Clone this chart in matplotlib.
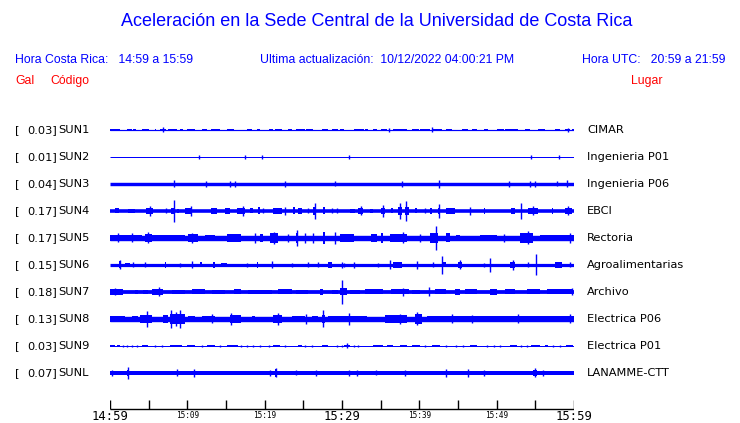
import matplotlib
matplotlib.use("Agg")
import matplotlib.pyplot as plt

W, H = 740, 423
BLUE = "#0000ff"
RED = "#ff0000"

title = "Aceleración en la Sede Central de la Universidad de Costa Rica"
hora_cr = "Hora Costa Rica:   14:59 a 15:59"
ultima = "Ultima actualización:  10/12/2022 04:00:21 PM"
hora_utc = "Hora UTC:   20:59 a 21:59"

codes = ["SUN1", "SUN2", "SUN3", "SUN4", "SUN5", "SUN6", "SUN7", "SUN8", "SUN9", "SUNL"]
gal = [0.03, 0.01, 0.04, 0.17, 0.17, 0.15, 0.18, 0.13, 0.03, 0.07]
places = ["CIMAR", "Ingenieria P01", "Ingenieria P06", "EBCI", "Rectoria",
          "Agroalimentarias", "Archivo", "Electrica P06", "Electrica P01", "LANAMME-CTT"]

# base half-amplitude of each trace (display units) ; events: (t_start_min, t_end_min, half_amp)
base_amp = [0.6, 0.5, 1.7, 1.8, 2.7, 1.6, 1.9, 2.7, 0.5, 2.0]

ev_sun1 = [(0.0, 1.3, 1.2), (2.15, 2.8, 1.2), (3.0, 3.4, 1.2), (4.1, 5.0, 1.2), (5.8, 6.0, 1.2),
           (6.5, 7.3, 1.2), (6.9, 6.9, 2.5), (7.5, 8.6, 1.2), (9.05, 9.5, 1.2), (9.9, 11.0, 1.2),
           (11.85, 12.5, 1.2), (13.1, 14.2, 1.2), (15.1, 16.0, 1.2), (17.7, 18.3, 1.2),
           (19.0, 19.4, 1.2), (20.5, 21.1, 1.2), (21.3, 22.2, 1.2), (23.05, 23.5, 1.2),
           (24.1, 25.2, 1.2), (25.4, 26.3, 1.2), (27.4, 28.2, 1.2), (28.7, 29.5, 1.2),
           (29.7, 30.3, 1.2), (31.5, 32.8, 1.2), (33.0, 33.4, 1.2), (34.0, 34.5, 1.2),
           (35.1, 35.8, 1.2), (36.1, 36.1, 2.0), (36.6, 38.4, 1.2), (39.0, 39.9, 1.2),
           (40.1, 41.4, 1.2), (41.6, 41.6, 2.5), (41.6, 42.9, 1.2), (43.5, 44.2, 1.2),
           (45.5, 46.3, 1.2), (46.8, 47.4, 1.2), (48.3, 48.9, 1.2), (50.0, 50.9, 1.2),
           (51.1, 52.8, 1.2), (53.7, 54.3, 1.2), (55.4, 56.2, 1.2), (57.5, 58.2, 1.2),
           (58.8, 59.5, 1.2), (59.2, 59.2, 2.0), (59.7, 60.0, 1.2)]
ev_sun2 = [(11.55, 11.55, 1.8), (17.4, 17.4, 1.8), (19.7, 19.7, 1.8), (30.95, 30.95, 1.8),
           (54.5, 54.5, 1.8), (58.0, 58.0, 1.8)]
ev_sun3 = [(8.3, 8.3, 3.5), (12.45, 12.45, 3.0), (15.55, 15.55, 3.0), (16.2, 16.2, 3.0),
           (22.65, 22.65, 3.0), (29.1, 29.1, 2.5), (37.7, 37.7, 3.0), (42.5, 42.5, 4.0),
           (51.6, 51.6, 3.0), (54.3, 54.3, 3.0), (54.9, 54.9, 3.0), (57.8, 57.8, 2.5),
           (59.05, 59.05, 3.5)]
ev_sun4 = [(0.65, 1.1, 2.5), (2.35, 3.2, 2.2), (4.7, 5.6, 3.2), (5.15, 5.15, 5.0), (7.3, 7.3, 2.5),
           (7.95, 8.4, 2.8), (8.3, 8.3, 11.0), (8.6, 8.9, 2.3), (9.7, 10.65, 3.2), (10.45, 10.45, 5.0),
           (13.1, 13.8, 3.2), (14.85, 15.5, 2.8), (16.4, 17.45, 3.2), (17.25, 17.25, 5.0),
           (18.1, 18.5, 2.5), (19.2, 19.4, 3.5), (19.8, 19.8, 2.5), (21.1, 22.2, 3.0),
           (22.6, 22.6, 4.0), (23.7, 23.9, 3.5), (24.35, 24.8, 2.8), (25.65, 25.65, 2.5),
           (26.3, 26.7, 3.8), (26.5, 26.5, 8.0), (27.6, 27.8, 3.5), (28.65, 28.65, 2.5),
           (29.3, 29.3, 2.5), (31.0, 31.7, 2.3), (32.1, 32.75, 2.8), (32.4, 32.4, 4.5),
           (33.6, 34.0, 2.3), (35.1, 35.6, 3.2), (35.3, 35.3, 6.0), (36.4, 36.6, 2.5),
           (37.3, 37.7, 3.8), (37.5, 37.5, 8.0), (38.1, 38.6, 4.0), (38.3, 38.3, 10.0),
           (39.4, 39.65, 2.5), (40.7, 40.7, 2.5), (41.4, 41.6, 3.0), (42.45, 42.7, 3.3),
           (42.55, 42.55, 7.0), (43.5, 44.6, 2.6), (46.55, 46.55, 4.0), (48.3, 48.5, 3.3),
           (51.9, 52.4, 2.8), (53.1, 53.1, 8.0), (54.1, 55.4, 3.0), (54.7, 54.7, 4.5),
           (57.1, 57.3, 3.0), (58.8, 59.7, 3.2), (59.2, 59.2, 4.5)]
ev_sun5 = [(0.0, 4.1, 3.2), (1.0, 1.0, 4.5), (2.8, 2.8, 4.5), (4.5, 5.4, 4.3), (4.9, 4.9, 5.5),
           (5.4, 9.7, 3.2), (10.1, 11.4, 4.0), (10.6, 10.6, 5.0), (12.3, 13.6, 3.2),
           (15.1, 17.0, 3.6), (18.75, 18.75, 5.0), (19.4, 19.8, 4.3), (20.7, 21.75, 4.8),
           (21.2, 21.2, 6.0), (23.05, 23.05, 4.0), (24.1, 24.3, 5.0), (24.2, 24.2, 8.0),
           (25.2, 25.2, 5.0), (26.3, 26.3, 5.0), (27.6, 27.8, 6.0), (29.1, 29.1, 6.0),
           (29.7, 31.5, 3.6), (33.8, 34.5, 4.0), (35.1, 35.3, 5.0), (36.2, 38.4, 4.0),
           (37.9, 37.9, 5.5), (40.1, 40.1, 4.0), (41.4, 42.45, 4.6), (42.15, 42.15, 12.0),
           (43.5, 43.95, 4.5), (44.8, 45.3, 3.2), (47.8, 50.0, 3.2), (50.9, 50.9, 4.0),
           (53.0, 54.7, 4.7), (54.0, 54.0, 6.5), (55.6, 60.0, 3.2), (59.5, 59.5, 5.0)]
ev_sun6 = [(1.1, 1.4, 3.5), (1.3, 1.3, 4.5), (1.95, 2.6, 2.0), (3.0, 3.0, 2.5), (4.5, 4.5, 2.5),
           (7.1, 7.3, 3.0), (9.05, 9.05, 2.0), (10.55, 10.55, 3.5), (11.6, 11.85, 2.5),
           (13.35, 13.6, 2.8), (14.4, 15.1, 2.3), (17.7, 17.7, 2.0), (19.0, 19.2, 2.8),
           (20.9, 20.9, 3.5), (23.5, 23.5, 2.0), (25.6, 25.6, 2.5), (26.9, 26.9, 2.5),
           (28.2, 28.7, 2.8), (30.0, 30.0, 3.0), (30.2, 30.2, 2.0), (31.5, 31.5, 3.0),
           (34.7, 34.7, 2.0), (36.2, 36.2, 4.5), (36.6, 37.7, 2.6), (39.65, 39.65, 4.0),
           (41.8, 41.8, 2.5), (42.9, 42.9, 9.0), (43.1, 43.5, 2.5), (45.0, 45.5, 2.8),
           (45.25, 45.25, 4.5), (48.3, 48.3, 2.0), (49.1, 49.1, 7.0), (51.7, 52.4, 2.8),
           (52.05, 52.05, 5.0), (54.1, 54.1, 2.5), (55.1, 55.1, 10.5), (57.5, 58.4, 2.6),
           (59.5, 59.5, 2.5)]
ev_sun7 = [(0.0, 1.7, 2.7), (0.6, 0.6, 3.5), (3.2, 3.6, 2.3), (4.3, 4.9, 2.3), (5.4, 6.9, 2.6),
           (6.3, 6.3, 4.5), (8.0, 9.7, 2.3), (10.55, 12.3, 2.5), (13.15, 14.9, 2.3),
           (16.0, 17.0, 2.5), (17.9, 20.9, 2.3), (21.75, 23.5, 2.5), (24.1, 25.6, 2.3),
           (27.15, 27.6, 2.7), (28.65, 29.5, 2.4), (29.7, 30.6, 3.5), (29.95, 29.95, 12.0),
           (31.0, 32.3, 2.3), (33.0, 35.3, 2.5), (36.4, 38.6, 2.5), (37.9, 37.9, 4.0),
           (39.0, 40.1, 2.3), (41.2, 41.2, 4.5), (42.0, 43.5, 2.5), (44.6, 45.25, 3.0),
           (45.9, 47.4, 2.5), (49.1, 50.0, 2.6), (51.1, 52.4, 2.5), (53.9, 55.6, 2.5),
           (56.5, 59.9, 2.5), (59.8, 59.8, 3.5)]
ev_sun8 = [(0.0, 1.9, 3.3), (2.8, 3.65, 3.3), (3.9, 5.4, 4.2), (4.75, 4.75, 8.0), (6.9, 7.5, 4.2),
           (7.75, 9.7, 5.0), (7.9, 7.9, 9.0), (9.1, 9.1, 9.0), (8.5, 8.5, 7.0), (10.1, 11.0, 3.3),
           (11.85, 13.6, 3.3), (13.15, 13.15, 4.5), (15.5, 17.0, 4.2), (15.7, 15.7, 6.0),
           (18.3, 18.75, 3.3), (21.1, 22.2, 4.2), (21.75, 21.75, 6.0), (23.5, 25.2, 3.1),
           (25.4, 25.4, 5.0), (26.1, 26.9, 3.1), (27.4, 27.8, 3.8), (27.6, 27.6, 8.5),
           (28.2, 31.5, 3.3), (30.95, 30.95, 6.0), (31.5, 33.2, 3.3), (35.6, 38.4, 4.0),
           (37.5, 37.5, 5.0), (39.4, 40.3, 4.6), (39.7, 39.7, 6.5), (41.0, 60.0, 3.1),
           (44.2, 44.2, 4.5), (46.8, 46.8, 4.0), (52.8, 52.8, 4.5), (59.5, 59.5, 4.5)]
ev_sun9 = [(0.0, 0.64, 1.1), (0.86, 1.29, 1.1), (1.72, 1.72, 1.2), (2.15, 2.15, 1.2),
           (2.8, 2.8, 1.2), (3.44, 3.44, 1.2), (4.09, 4.95, 1.1), (5.8, 5.8, 1.2), (6.68, 6.68, 1.2),
           (7.75, 9.26, 1.1), (9.9, 11.0, 1.1), (11.85, 11.85, 1.2), (12.5, 13.6, 1.1),
           (14.2, 14.2, 1.2), (15.1, 16.6, 1.1), (17.0, 17.0, 1.2), (17.7, 17.7, 1.2),
           (18.5, 18.5, 1.2), (19.4, 19.4, 1.2), (20.5, 20.5, 1.2), (21.1, 22.0, 1.1),
           (22.6, 22.6, 1.2), (24.35, 24.8, 1.1), (25.2, 25.2, 1.2), (26.1, 26.1, 1.2),
           (27.4, 28.2, 1.1), (29.3, 29.3, 1.2), (29.95, 29.95, 1.2), (30.2, 31.0, 1.1),
           (30.6, 30.6, 2.5), (31.5, 31.5, 1.2), (32.1, 32.1, 1.2), (34.05, 35.3, 1.1),
           (35.8, 36.6, 1.1), (37.5, 38.4, 1.1), (39.0, 40.1, 1.1), (40.7, 40.7, 1.2),
           (41.6, 42.7, 1.1), (43.5, 43.5, 1.2), (44.8, 44.8, 1.2), (45.7, 45.7, 1.2),
           (46.5, 47.4, 1.1), (48.7, 48.7, 1.2), (49.6, 49.6, 1.2), (50.4, 50.4, 1.2),
           (51.7, 52.6, 1.1), (53.2, 53.2, 1.2), (53.9, 53.9, 1.2), (54.5, 55.6, 1.1),
           (56.2, 56.7, 1.1), (57.3, 57.3, 1.2), (58.2, 58.2, 1.2), (59.0, 59.9, 1.1)]
ev_sunl = [(0.2, 0.2, 3.0), (2.2, 2.5, 3.0), (2.35, 2.35, 6.0), (8.6, 8.6, 3.5), (10.8, 10.8, 4.0),
           (20.7, 20.7, 3.0), (21.3, 21.55, 3.8), (21.45, 21.45, 4.5), (24.1, 24.1, 2.5),
           (26.7, 26.7, 3.0), (30.95, 30.95, 3.0), (31.9, 31.9, 3.0), (34.4, 34.4, 2.5),
           (38.1, 38.1, 3.0), (43.45, 43.45, 4.0), (46.25, 46.25, 4.0), (48.4, 48.4, 3.0),
           (54.7, 55.2, 3.3), (54.95, 54.95, 4.5), (56.0, 56.0, 3.0)]
events = [ev_sun1, ev_sun2, ev_sun3, ev_sun4, ev_sun5, ev_sun6, ev_sun7, ev_sun8, ev_sun9, ev_sunl]

tick_minutes = [0, 5, 10, 15, 20, 25, 30, 35, 40, 45, 50, 55, 60]
label_minutes = [0, 10, 20, 30, 40, 50, 60]
tick_labels = ["14:59", "15:09", "15:19", "15:29", "15:39", "15:49", "15:59"]
major_labels = ["14:59", "15:29", "15:59"]

# ---------------- layout ----------------
X0, X1 = 110, 574          # trace extent in pixels
Y_FIRST, DY = 130, 27      # first trace centre / spacing (pixels)
AXIS_Y, TICK_TOP, LABEL_Y = 409, 400, 416
PX = 72.0 / 100.0          # points per pixel

fig = plt.figure(figsize=(W / 100, H / 100), dpi=100)
fig.patch.set_facecolor("white")
ax = fig.add_axes([X0 / W, 0, (X1 - X0) / W, 1])
ax.set_xlim(0, 60)
ax.set_ylim(H, 0)
ax.axis("off")


def ftext(x, y, s, **kw):
    fig.text(x / W, 1 - y / H, s, va="center", **kw)


sans = ["Liberation Sans", "DejaVu Sans"]
ftext(376.5, 21, title, ha="center", color=BLUE, fontsize=13.0, family=sans)
ftext(15, 60, hora_cr, ha="left", color=BLUE, fontsize=8.8, family=sans)
ftext(260, 60, ultima, ha="left", color=BLUE, fontsize=8.8, family=sans)
ftext(725, 60, hora_utc, ha="right", color=BLUE, fontsize=8.8, family=sans)
ftext(15, 81, "Gal", ha="left", color=RED, fontsize=8.8, family=sans)
ftext(50, 81, "Código", ha="left", color=RED, fontsize=8.8, family=sans)
ftext(663, 81, "Lugar", ha="right", color=RED, fontsize=8.8, family=sans)

for i, code in enumerate(codes):
    c = Y_FIRST + DY * i
    b = base_amp[i]
    ax.hlines(c, 0, 60, colors=BLUE, lw=2 * b * PX)
    for t0, t1, a in events[i]:
        if t1 - t0 > 0.12:
            ax.fill_between([t0, t1], c - a, c + a, color=BLUE, lw=0)
        else:
            ax.vlines(t0, c - a, c + a, colors=BLUE, lw=1.0)
    ftext(15, c, "[", ha="left", color="black", fontsize=8.2, family="DejaVu Sans")
    ftext(57, c, f"{gal[i]:.2f}]", ha="right", color="black", fontsize=8.2, family="DejaVu Sans")
    ftext(58, c, code, ha="left", color="black", fontsize=8.2, family="DejaVu Sans")
    ftext(587, c, places[i], ha="left", color="black", fontsize=8.2, family="DejaVu Sans")

# time axis
ax.hlines(AXIS_Y, 0, 60, colors="black", lw=1.0)
ax.vlines(tick_minutes, TICK_TOP, AXIS_Y, colors="black", lw=1.0)
for m, lab in zip(label_minutes, tick_labels):
    big = lab in major_labels
    ax.text(m, LABEL_Y, lab, ha="center", va="center", color="black",
            fontsize=8.8 if big else 5.6, family="DejaVu Sans Mono", clip_on=False)

fig.savefig("out.png", dpi=100, facecolor="white")
